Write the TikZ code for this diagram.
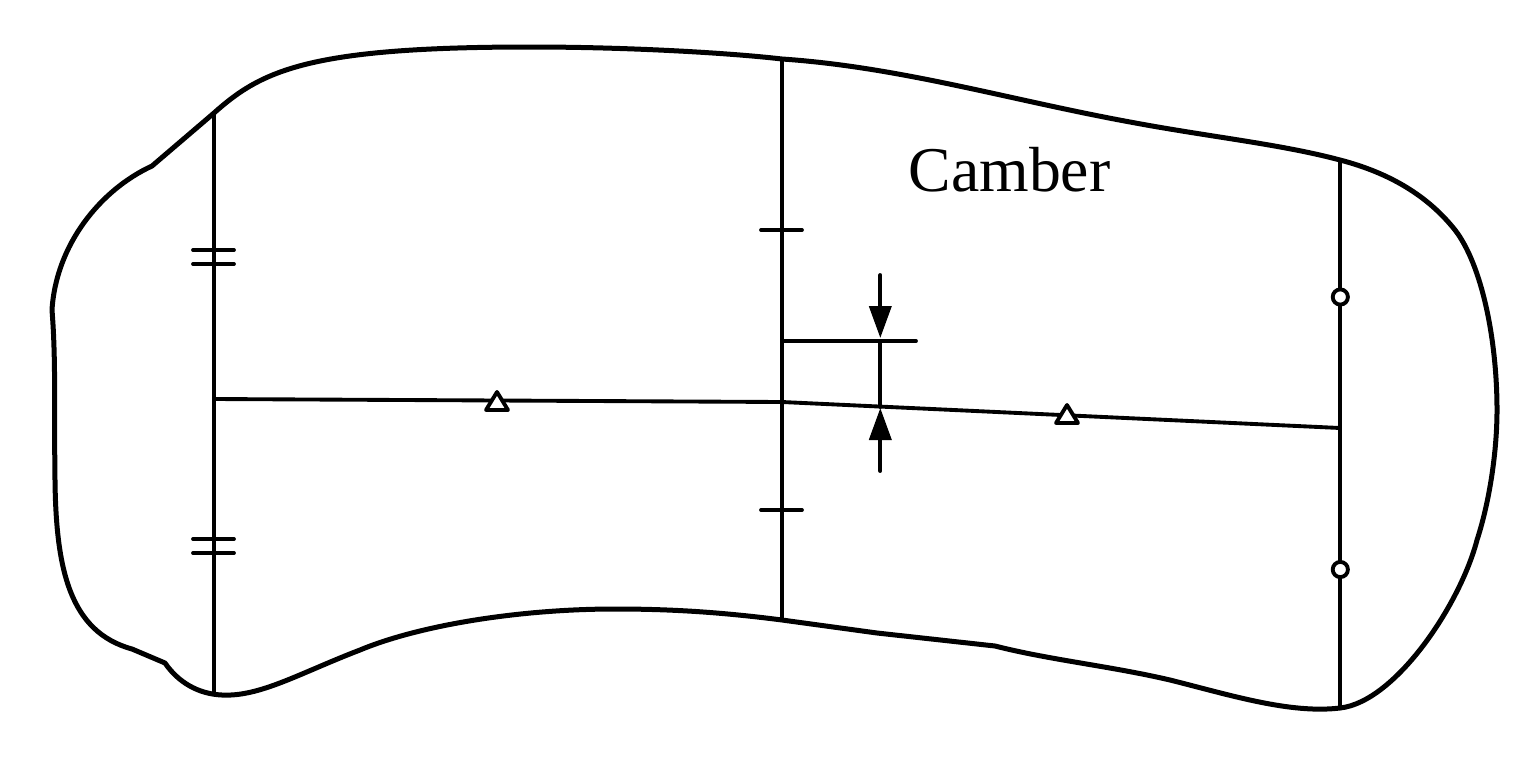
\documentclass[tikz,border=0pt]{standalone}
\usepackage{fontspec}
\setmainfont{Liberation Serif}
\usetikzlibrary{arrows.meta}
\tikzset{
  outline/.style={line width=3.75pt, line join=round},
  ln/.style={line width=2.9pt, line cap=round},
  tick/.style={line width=2.8pt, line cap=round},
  mk/.style={line width=2.9pt, fill=white, line join=round},
  dimarrow/.style={line width=2.9pt, line cap=round, -{Triangle[length=24pt,width=16.5pt]}}
}
\begin{document}
\begin{tikzpicture}[x=0.75pt,y=-0.75pt]
\useasboundingbox (0,0) rectangle (1540,760);
% outline
\draw[outline]
 (214,113)
 .. controls (262,70) and (310,47) .. (530,47)
 .. controls (630,47) and (730,53) .. (782,59)
 .. controls (900,67) and (1010,100) .. (1130,122)
 .. controls (1210,137) and (1280,144) .. (1340,160)
 .. controls (1390,173) and (1428,196) .. (1455,230)
 .. controls (1482,265) and (1497,340) .. (1497,410)
 .. controls (1497,450) and (1490,500) .. (1477,540)
 .. controls (1460,605) and (1395,702) .. (1340,708)
 .. controls (1290,714) and (1230,695) .. (1170,680)
 .. controls (1110,666) and (1050,660) .. (995,646)
 -- (877,633)
 -- (782,620)
 .. controls (720,612) and (670,609) .. (615,609)
 .. controls (520,609) and (420,625) .. (360,650)
 .. controls (300,673) and (260,697) .. (222,695)
 .. controls (198,694) and (178,682) .. (165,663)
 -- (132,649)
 .. controls (70,632) and (56,570) .. (55,480)
 .. controls (54,410) and (56,360) .. (52,310)
 .. controls (56,245) and (100,190) .. (152,166)
 -- cycle;
% verticals
\coordinate (la) at (214,113); \coordinate (lb) at (214,692);
\coordinate (ma) at (782,59);  \coordinate (mb) at (782,620);
\coordinate (ra) at (1340,160);\coordinate (rb) at (1340,708);
\draw[ln] (la) -- (lb);
\draw[ln] (ma) -- (mb);
\draw[ln] (ra) -- (rb);
% centre line
\coordinate (cl) at (214,399); \coordinate (cm) at (782,402); \coordinate (cr) at (1340,428);
\draw[ln] (cl) -- (cm) -- (cr);
% ticks
\foreach \y in {250,264,539,553} \draw[tick] (193,\y) -- (234,\y);
\foreach \y in {230,510} \draw[tick] (761,\y) -- (802,\y);
% circles
\foreach \y in {297,569.5} \draw[mk] (1340.3,\y) circle[radius=7.6];
% triangles
\draw[mk] (486,410) -- (497,392) -- (508,410) -- cycle;
\draw[mk] (1056,423) -- (1067,405) -- (1078,423) -- cycle;
% dimension
\coordinate (t) at (880.3,341);
\coordinate (b) at (880.3,407);
\draw[ln] (782,341) -- (916,341);
\draw[ln] (t) -- (b);
\coordinate (ts) at (880.3,275);
\coordinate (tt) at (880.3,338);
\coordinate (bs) at (880.3,471);
\coordinate (bt) at (880.3,408);
\draw[dimarrow] (ts) -- (tt);
\draw[dimarrow] (bs) -- (bt);
\node[font=\fontsize{47.8pt}{50pt}\selectfont, inner sep=0pt] (camber) at (1009.5,170) {Camber};
\end{tikzpicture}
\end{document}
